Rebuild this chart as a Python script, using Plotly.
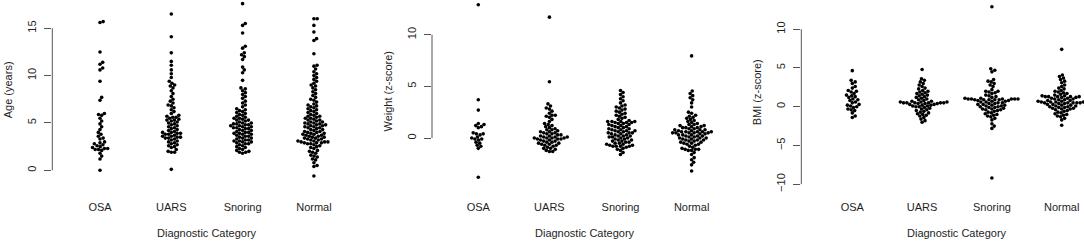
import math
import plotly.graph_objects as go

categories = ["OSA", "UARS", "Snoring", "Normal"]

# ---- Age (years) ----
age_osa = [15.7, 15.6, 12.5, 11.4, 11.2, 10.8, 10.6, 9.4, 7.7, 7.4, 6.0, 5.9, 5.8, 5.5, 5.2, 4.9, 4.6,
           4.3, 4.0, 3.8, 3.6, 3.4, 3.3, 3.0, 2.9, 2.8, 2.7, 2.6, 2.5, 2.4, 2.3, 2.3, 2.2, 2.2, 2.1,
           1.8, 1.5, 1.2, 0.0]
age_uars = [16.5, 14.1, 12.4, 11.5, 11.1, 10.6, 10.2, 9.8, 9.4, 9.2, 9.0, 8.9, 8.7, 8.4, 8.1, 7.8,
            7.5, 7.3, 7.1, 6.9, 6.8, 6.6, 6.4, 6.2, 6.0, 5.8, 5.7, 5.6, 5.6, 5.5, 5.4, 5.3, 5.3, 5.2,
            5.1, 5.0, 4.9, 4.8, 4.7, 4.6, 4.5, 4.4, 4.3, 4.2, 4.1, 4.0, 4.0, 3.9, 3.9, 3.8, 3.8, 3.7,
            3.6, 3.6, 3.5, 3.5, 3.4, 3.4, 3.3, 3.2, 3.1, 3.0, 2.9, 2.8, 2.7, 2.6, 2.5, 2.4, 2.2, 2.0,
            1.9, 1.9, 0.1]
age_snoring = [17.6, 15.5, 15.3, 14.5, 13.1, 12.9, 12.4, 12.2, 12.0, 11.7, 10.9, 10.6, 10.3, 9.5,
               8.7, 8.6, 8.4, 8.2, 8.0, 7.8, 7.6, 7.3, 7.1, 6.9, 6.7, 6.5, 6.4, 6.3, 6.2, 6.1, 6.0,
               5.9, 5.8, 5.7, 5.6, 5.5, 5.5, 5.4, 5.3, 5.3, 5.2, 5.1, 5.0, 5.0, 4.9, 4.9, 4.8, 4.8,
               4.7, 4.7, 4.6, 4.6, 4.5, 4.5, 4.4, 4.4, 4.3, 4.2, 4.2, 4.1, 4.0, 4.0, 3.9, 3.9, 3.8,
               3.8, 3.7, 3.6, 3.6, 3.5, 3.4, 3.4, 3.3, 3.2, 3.2, 3.1, 3.1, 3.0, 3.0, 2.9, 2.8, 2.8,
               2.7, 2.6, 2.5, 2.4, 2.3, 2.2, 2.1, 2.0, 1.9, 1.9, 1.8]
age_normal = [16.0, 16.0, 15.3, 14.6, 13.9, 13.7, 12.3, 11.1, 11.0, 10.7, 10.4, 10.2, 10.0, 9.8, 9.6,
              9.4, 9.2, 9.0, 8.9, 8.7, 8.5, 8.3, 8.1, 7.9, 7.7, 7.5, 7.4, 7.2, 7.0, 6.9, 6.8, 6.7,
              6.6, 6.5, 6.4, 6.3, 6.2, 6.1, 6.0, 5.9, 5.8, 5.7, 5.7, 5.6, 5.5, 5.5, 5.4, 5.3, 5.3,
              5.2, 5.1, 5.1, 5.0, 5.0, 4.9, 4.9, 4.8, 4.8, 4.7, 4.7, 4.6, 4.6, 4.5, 4.5, 4.4, 4.3,
              4.3, 4.2, 4.1, 4.1, 4.0, 4.0, 3.9, 3.9, 3.8, 3.8, 3.7, 3.7, 3.6, 3.6, 3.5, 3.5, 3.4,
              3.4, 3.3, 3.3, 3.2, 3.2, 3.1, 3.1, 3.0, 3.0, 3.0, 2.9, 2.9, 2.9, 2.8, 2.8, 2.7, 2.6,
              2.5, 2.4, 2.3, 2.1, 2.0, 1.9, 1.8, 1.6, 1.5, 1.4, 1.2, 1.1, 0.8, 0.5, 0.4, -0.6]

# ---- Weight (z-score) ----
wt_osa = [12.9, 3.7, 2.7, 1.4, 1.3, 1.2, 1.1, 1.0, 0.5, 0.4, 0.4, 0.3, 0.1, 0.0, -0.1, -0.1, -0.2,
          -0.4, -0.5, -0.7, -0.8, -1.0, -3.8]
wt_uars = [11.7, 5.45, 3.3, 3.1, 2.9, 2.8, 2.6, 2.4, 2.2, 2.2, 2.1, 2.0, 1.8, 1.6, 1.4, 1.3, 1.2,
           1.1, 1.0, 0.9, 0.8, 0.8, 0.7, 0.6, 0.6, 0.5, 0.5, 0.4, 0.4, 0.3, 0.3, 0.2, 0.2, 0.1, 0.1,
           0.1, 0.0, 0.0, 0.0, 0.0, -0.1, -0.1, -0.1, -0.2, -0.2, -0.3, -0.3, -0.4, -0.4, -0.5, -0.5,
           -0.6, -0.6, -0.7, -0.7, -0.8, -0.9, -1.0, -1.0, -1.1, -1.2, -1.3, -1.3]
wt_snoring = [4.6, 4.4, 4.2, 4.0, 3.8, 3.6, 3.4, 3.2, 3.1, 3.0, 2.9, 2.8, 2.7, 2.6, 2.5, 2.4, 2.3,
              2.2, 2.1, 2.0, 1.9, 1.8, 1.7, 1.6, 1.6, 1.6, 1.6, 1.5, 1.5, 1.5, 1.4, 1.4, 1.3, 1.3,
              1.2, 1.2, 1.1, 1.1, 1.0, 1.0, 0.9, 0.9, 0.8, 0.8, 0.7, 0.7, 0.7, 0.6, 0.6, 0.5, 0.5,
              0.5, 0.4, 0.4, 0.3, 0.3, 0.2, 0.2, 0.2, 0.1, 0.1, 0.0, 0.0, -0.1, -0.1, -0.2, -0.2,
              -0.3, -0.3, -0.4, -0.4, -0.5, -0.5, -0.6, -0.6, -0.7, -0.7, -0.8, -0.8, -0.8, -0.8,
              -0.9, -1.0, -1.1, -1.2, -1.4, -1.6]
wt_normal = [7.95, 4.55, 4.3, 4.1, 3.9, 3.7, 3.4, 3.0, 2.5, 2.4, 2.2, 2.1, 2.0, 1.9, 1.8, 1.7, 1.6,
             1.5, 1.4, 1.3, 1.3, 1.2, 1.2, 1.1, 1.1, 1.0, 1.0, 1.0, 0.9, 0.9, 0.8, 0.8, 0.8, 0.7,
             0.7, 0.6, 0.6, 0.6, 0.6, 0.6, 0.5, 0.5, 0.5, 0.5, 0.5, 0.4, 0.4, 0.3, 0.3, 0.3, 0.2,
             0.2, 0.2, 0.1, 0.1, 0.0, 0.0, 0.0, -0.1, -0.1, -0.2, -0.2, -0.2, -0.3, -0.3, -0.4,
             -0.4, -0.5, -0.5, -0.6, -0.6, -0.7, -0.8, -0.9, -1.0, -1.1, -1.1, -1.1, -1.2, -1.2,
             -1.4, -1.6, -1.9, -2.1, -2.35, -2.6, -3.2]

# ---- BMI (z-score) ----
bmi_osa = [4.65, 3.4, 3.2, 3.0, 2.6, 2.4, 2.1, 2.0, 1.9, 1.7, 1.5, 1.4, 1.3, 1.2, 1.0, 0.9, 0.8,
           0.6, 0.5, 0.3, 0.2, 0.1, 0.0, -0.1, -0.3, -0.4, -0.5, -0.8, -1.2, -1.4]
bmi_uars = [4.8, 3.6, 3.4, 3.2, 3.0, 2.8, 2.6, 2.4, 2.3, 2.1, 2.0, 1.9, 1.8, 1.7, 1.6, 1.5, 1.4,
            1.3, 1.2, 1.1, 1.0, 0.9, 0.8, 0.7, 0.7, 0.6, 0.6, 0.6, 0.5, 0.5, 0.5, 0.5, 0.5, 0.5,
            0.4, 0.4, 0.4, 0.3, 0.3, 0.2, 0.2, 0.1, 0.1, 0.0, 0.0, -0.1, -0.2, -0.3, -0.4, -0.5,
            -0.6, -0.7, -0.8, -0.9, -1.0, -1.1, -1.2, -1.4, -1.6, -1.8, -2.0]
bmi_snoring = [12.9, 4.9, 4.7, 4.5, 3.5, 3.3, 3.2, 3.0, 2.8, 2.6, 2.2, 2.0, 2.0, 1.9, 1.8, 1.7,
               1.5, 1.4, 1.3, 1.2, 1.1, 1.1, 1.0, 1.0, 1.0, 1.0, 1.0, 1.0, 0.9, 0.9, 0.9, 0.9, 0.9,
               0.8, 0.8, 0.7, 0.7, 0.6, 0.6, 0.5, 0.5, 0.4, 0.4, 0.3, 0.3, 0.2, 0.2, 0.1, 0.1, 0.0,
               0.0, -0.1, -0.1, -0.2, -0.3, -0.3, -0.4, -0.4, -0.5, -0.6, -0.7, -0.8, -0.9, -1.0,
               -1.1, -1.2, -1.3, -1.5, -1.7, -2.2, -2.5, -2.8, -9.2]
bmi_normal = [7.4, 4.1, 3.9, 3.7, 3.5, 3.3, 3.1, 2.8, 2.6, 2.4, 2.3, 2.1, 2.0, 1.9, 1.8, 1.7, 1.6,
              1.5, 1.4, 1.4, 1.3, 1.3, 1.3, 1.3, 1.3, 1.2, 1.2, 1.1, 1.1, 1.0, 1.0, 0.9, 0.9, 0.8,
              0.8, 0.7, 0.7, 0.6, 0.6, 0.6, 0.6, 0.5, 0.5, 0.5, 0.5, 0.5, 0.4, 0.4, 0.3, 0.3, 0.2,
              0.2, 0.1, 0.1, 0.0, 0.0, -0.1, -0.1, -0.2, -0.2, -0.3, -0.3, -0.4, -0.5, -0.6, -0.7,
              -0.8, -0.9, -1.0, -1.1, -1.2, -1.3, -1.5, -1.7, -2.4]

y_titles = ["Age (years)", "Weight (z-score)", "BMI (z-score)"]
y_ticks = [[0, 5, 10, 15], [0, 5, 10], [-10, -5, 0, 5, 10]]
x_title = "Diagnostic Category"

W, H = 1084, 241
FONT = "Liberation Sans, Arial, Helvetica, sans-serif"
TXT = "#1e1e1e"
DOT = 3.3  # swarm spacing in px
BOTTOM_PX = 192

# layout geometry per panel (pixels)
panels = [
    dict(data=[age_osa, age_uars, age_snoring, age_normal], axis=52.3, cat1=100.0, step=71.3,
         y0=170.3, ppu=9.47, right=380, title_x=8.3, title_y=90),
    dict(data=[wt_osa, wt_uars, wt_snoring, wt_normal], axis=432.0, cat1=478.3, step=71.1,
         y0=138.0, ppu=10.33, right=760, title_x=387.5, title_y=92),
    dict(data=[bmi_osa, bmi_uars, bmi_snoring, bmi_normal], axis=801.3, cat1=852.3, step=69.8,
         y0=106.7, ppu=7.75, right=1084, title_x=757.3, title_y=92),
]


def swarm_offsets(vals, ppu, d):
    """Beeswarm ('swarm' method): horizontal pixel offsets for values."""
    ys = [v * ppu for v in vals]
    order = sorted(range(len(ys)), key=lambda i: ys[i])
    placed = []
    offs = [0.0] * len(ys)
    for i in order:
        y = ys[i]
        near = [(px, py) for px, py in placed if abs(py - y) < d]
        cands = [0.0]
        for px, py in near:
            dx = math.sqrt(max(d * d - (py - y) ** 2, 0.0))
            cands += [px + dx, px - dx]
        cands.sort(key=lambda c: (abs(c), -c))
        chosen = cands[-1]
        for c in cands:
            if all((c - px) ** 2 + (y - py) ** 2 >= d * d - 1e-6 for px, py in near):
                chosen = c
                break
        offs[i] = chosen
        placed.append((chosen, y))
    return offs


fig = go.Figure()
shapes = []
annotations = []
for k, p in enumerate(panels):
    xa = "x" if k == 0 else f"x{k + 1}"
    ya = "y" if k == 0 else f"y{k + 1}"
    for ci, vals in enumerate(p["data"]):
        offs = swarm_offsets(vals, p["ppu"], DOT)
        xs = [ci + 1 + o / p["step"] for o in offs]
        fig.add_trace(go.Scatter(
            x=xs, y=vals, mode="markers", xaxis=xa, yaxis=ya,
            marker=dict(color="black", size=3.6, line=dict(width=0)),
            cliponaxis=False, showlegend=False, hoverinfo="y"))
    x_lo = 1 - (p["cat1"] - p["axis"]) / p["step"]
    x_hi = 1 + (p["right"] - p["cat1"]) / p["step"]
    y_lo = -(BOTTOM_PX - p["y0"]) / p["ppu"]
    y_hi = p["y0"] / p["ppu"]
    xkey = "xaxis" if k == 0 else f"xaxis{k + 1}"
    ykey = "yaxis" if k == 0 else f"yaxis{k + 1}"
    fig.update_layout(**{
        xkey: dict(domain=[p["axis"] / W, p["right"] / W], range=[x_lo, x_hi], anchor=ya,
                   tickvals=[1, 2, 3, 4], ticktext=categories, showline=False, showgrid=False,
                   zeroline=False, ticks="", ticklabelstandoff=7,
                   tickfont=dict(family=FONT, size=11, color=TXT)),
        ykey: dict(domain=[1 - BOTTOM_PX / H, 1], range=[y_lo, y_hi], anchor=xa,
                   tickvals=y_ticks[k], showline=False, showgrid=False, zeroline=False,
                   ticks="outside", ticklen=7, tickwidth=1, tickcolor="#555",
                   tickangle=-90, ticklabelstandoff=4,
                   tickfont=dict(family=FONT, size=11, color=TXT)),
    })
    shapes.append(dict(type="line", xref=f"{xa} domain", yref=ya, x0=0, x1=0,
                       y0=min(y_ticks[k]), y1=max(y_ticks[k]),
                       line=dict(color="#555", width=1)))
    annotations.append(dict(text=y_titles[k], xref="paper", yref="paper",
                            x=p["title_x"] / W, y=1 - p["title_y"] / H, textangle=-90,
                            showarrow=False, xanchor="center", yanchor="middle",
                            font=dict(family=FONT, size=11, color=TXT)))
    annotations.append(dict(text=x_title, xref=xa, yref="paper", x=2.5, y=1 - 232.7 / H,
                            showarrow=False, xanchor="center", yanchor="middle",
                            font=dict(family=FONT, size=11, color=TXT)))

fig.update_layout(width=W, height=H, margin=dict(l=0, r=0, t=0, b=0),
                  paper_bgcolor="white", plot_bgcolor="white",
                  shapes=shapes, annotations=annotations)
# remove the default 8px page margin so the figure sits at the window corner
fig.write_html("out.html", config={"displayModeBar": False},
               post_script="document.body.style.margin='0';document.body.style.overflow='hidden';")
